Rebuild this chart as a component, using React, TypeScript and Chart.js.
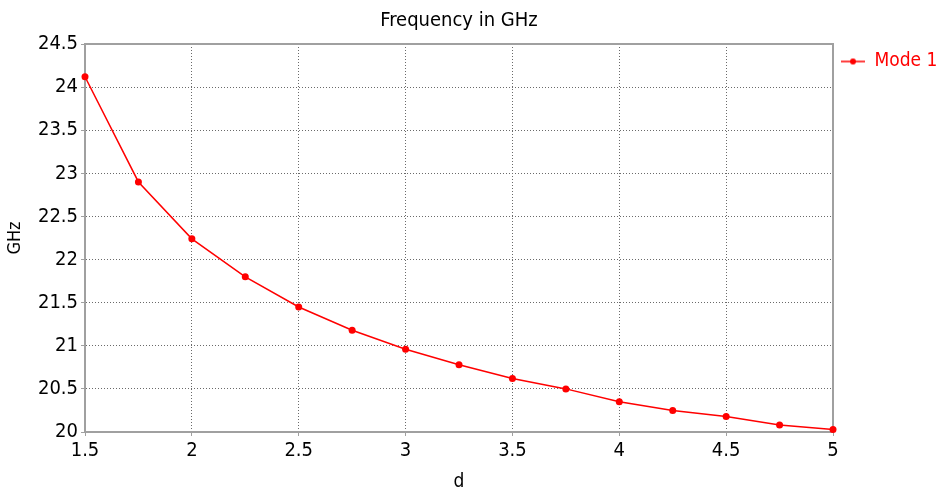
import React, { useEffect, useRef } from "react";
import { Chart, registerables } from "chart.js";

Chart.register(...registerables);

const titleText = "Frequency in GHz";
const xTitle = "d";
const yTitle = "GHz";
const seriesName = "Mode 1";
const dValues = [1.5, 1.75, 2.0, 2.25, 2.5, 2.75, 3.0, 3.25, 3.5, 3.75, 4.0, 4.25, 4.5, 4.75, 5.0];
const mode1GHz = [24.12, 22.9, 22.24, 21.8, 21.45, 21.18, 20.96, 20.78, 20.62, 20.5, 20.35, 20.25, 20.18, 20.08, 20.03];
const xMin = 1.5;
const xMax = 5;
const yMin = 20;
const yMax = 24.5;
const tickStep = 0.5;

const FONT = "'DejaVu Sans Condensed', 'Liberation Sans', sans-serif";
const RED = "#ff0000";

const fmt = (v: any) => String(Math.round(Number(v) * 100) / 100);

function makeLegendIcon(): HTMLCanvasElement {
  const c = document.createElement("canvas");
  c.width = 24;
  c.height = 10;
  const ctx = c.getContext("2d")!;
  ctx.strokeStyle = RED;
  ctx.lineWidth = 1.5;
  ctx.beginPath();
  ctx.moveTo(0, 5);
  ctx.lineTo(24, 5);
  ctx.stroke();
  ctx.fillStyle = RED;
  ctx.beginPath();
  ctx.arc(12, 5, 3, 0, Math.PI * 2);
  ctx.fill();
  return c;
}

const framePlugin = {
  id: "frame",
  beforeDatasetsDraw(chart: any) {
    const { ctx, chartArea } = chart;
    ctx.save();
    ctx.strokeStyle = "#a0a0a0";
    ctx.lineWidth = 2;
    ctx.beginPath();
    ctx.moveTo(chartArea.left, chartArea.top);
    ctx.lineTo(chartArea.right, chartArea.top);
    ctx.lineTo(chartArea.right, chartArea.bottom);
    ctx.stroke();
    ctx.restore();
  },
};

export default function App() {
  const ref = useRef<HTMLCanvasElement | null>(null);
  useEffect(() => {
    if (!ref.current) return;
    const icon = makeLegendIcon();
    const gridOpts: any = {
      color: "#6a6a6a",
      tickLength: 4,
      tickColor: "#a0a0a0",
    };
    const borderOpts: any = { display: true, color: "#a0a0a0", width: 2, dash: [1, 2] };
    const chart = new Chart(ref.current, {
      type: "line",
      data: {
        datasets: [
          {
            label: seriesName,
            data: dValues.map((x, i) => ({ x, y: mode1GHz[i] })),
            borderColor: RED,
            backgroundColor: RED,
            borderWidth: 1.5,
            pointRadius: 3.5,
            pointBorderWidth: 0,
            pointBackgroundColor: RED,
            pointStyle: "circle",
            tension: 0,
            clip: 6,
          },
        ],
      },
      options: {
        animation: false,
        responsive: true,
        maintainAspectRatio: false,
        layout: { padding: 0 },
        plugins: {
          title: {
            display: true,
            text: titleText,
            fullSize: false,
            color: "#000",
            font: { family: FONT, size: 20, weight: "normal", lineHeight: 1.2 },
            padding: { top: 9, bottom: 11 },
          },
          legend: {
            display: true,
            position: "right",
            align: "start",
            fullSize: false,
            maxWidth: 107,
            labels: {
              usePointStyle: true,
              pointStyle: icon as any,
              pointStyleWidth: 24,
              padding: 8,
              color: RED,
              font: { family: FONT, size: 19 },
            },
          },
          tooltip: { enabled: false },
        },
        scales: {
          x: {
            type: "linear",
            min: xMin,
            max: xMax,
            afterFit: (s: any) => {
              s.height = 60;
            },
            ticks: {
              stepSize: tickStep,
              color: "#000",
              padding: 3,
              font: { family: FONT, size: 20, lineHeight: 1.2 },
              maxRotation: 0,
              callback: fmt,
            },
            grid: gridOpts,
            border: borderOpts,
            title: {
              display: true,
              text: xTitle,
              color: "#000",
              font: { family: FONT, size: 19, lineHeight: 1 },
              padding: 0,
            },
          },
          y: {
            type: "linear",
            min: yMin,
            max: yMax,
            afterFit: (s: any) => {
              s.width = 85;
            },
            ticks: {
              stepSize: tickStep,
              color: "#000",
              padding: 3,
              font: { family: FONT, size: 20, lineHeight: 1.2 },
              callback: fmt,
            },
            grid: gridOpts,
            border: borderOpts,
            title: {
              display: true,
              text: yTitle,
              color: "#000",
              font: { family: FONT, size: 18, lineHeight: 1.2 },
              padding: { top: 5, bottom: 0 },
            },
          },
        },
      },
      plugins: [framePlugin],
    });
    return () => chart.destroy();
  }, []);
  return (
    <div style={{ position: "fixed", left: 0, top: 0, width: 940, height: 492, background: "#fff" }}>
      <canvas ref={ref} />
    </div>
  );
}
